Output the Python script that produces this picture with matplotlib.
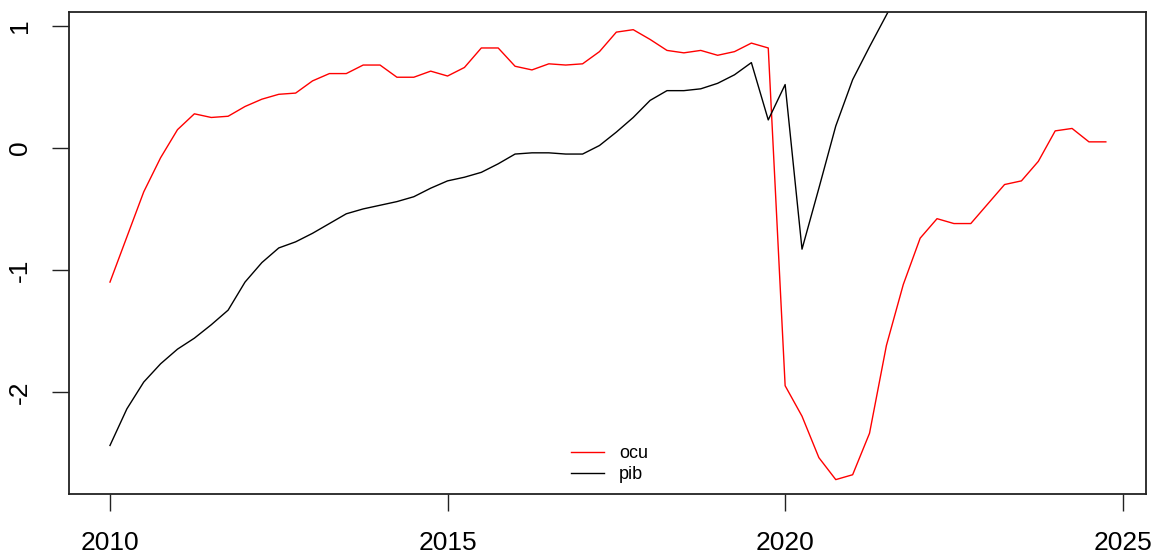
import numpy as np
import matplotlib
matplotlib.use('Agg')
import matplotlib.pyplot as plt

plt.rcParams['font.family'] = ['Liberation Sans', 'DejaVu Sans']

# quarterly series starting 2010 Q1
start_year = 2010
ocu = [-1.10, -0.73, -0.36, -0.08, 0.15, 0.28, 0.25, 0.26, 0.34, 0.40,
       0.44, 0.45, 0.55, 0.61, 0.61, 0.68, 0.68, 0.58, 0.58, 0.63,
       0.59, 0.66, 0.82, 0.82, 0.67, 0.64, 0.69, 0.68, 0.69, 0.79,
       0.95, 0.97, 0.89, 0.80, 0.78, 0.80, 0.76, 0.79, 0.86, 0.82,
       -1.95, -2.20, -2.54, -2.72, -2.68, -2.34, -1.62, -1.12, -0.74, -0.58,
       -0.62, -0.62, -0.46, -0.30, -0.27, -0.11, 0.14, 0.16, 0.05, 0.05]
pib = [-2.44, -2.14, -1.92, -1.77, -1.65, -1.56, -1.45, -1.33, -1.10, -0.94,
       -0.82, -0.77, -0.70, -0.62, -0.54, -0.50, -0.47, -0.44, -0.40, -0.33,
       -0.27, -0.24, -0.20, -0.13, -0.05, -0.04, -0.04, -0.05, -0.05, 0.02,
       0.13, 0.25, 0.39, 0.47, 0.47, 0.485, 0.53, 0.60, 0.70, 0.23,
       0.52, -0.83, -0.33, 0.18, 0.56, 0.83, 1.09, 1.35, 1.58, 1.78,
       1.95, 2.08, 2.17, 2.22, 2.25, 2.27, 2.28, 2.28, 2.27, 2.26]
x_ticks = [2010, 2015, 2020, 2025]
y_ticks = [-2, -1, 0, 1]

t = start_year + np.arange(len(ocu)) / 4

fig = plt.figure(figsize=(11.56, 5.57), dpi=100)
ax = fig.add_axes([69 / 1156, 1 - 494 / 557, (1146 - 69) / 1156, (494 - 12) / 557])

ax.plot(t, ocu, color='red', lw=1.0, label='ocu')
ax.plot(t, pib, color='black', lw=1.0, label='pib')

ax.set_xlim(2009.393, 2025.345)
ax.set_ylim(-2.838, 1.115)

ax.set_xticks(x_ticks)
ax.set_yticks(y_ticks)
ax.set_yticklabels([str(v) for v in y_ticks], rotation=90, va='center')
ax.tick_params(axis='both', length=12.5, width=1.0, labelsize=19, color='#222222')
ax.tick_params(axis='x', pad=14.5)
ax.tick_params(axis='y', pad=14)

for s in ax.spines.values():
    s.set_linewidth(1.3)
    s.set_color('#222222')

ax.legend(loc='center', bbox_to_anchor=(0.502, 0.062), frameon=False,
          fontsize=13, handlelength=1.8, handletextpad=0.85,
          labelspacing=0.25, borderpad=0)

fig.savefig('out.png', dpi=100)
